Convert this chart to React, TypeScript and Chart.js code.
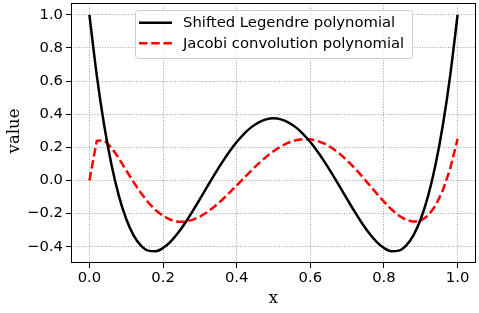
import React, { useEffect, useRef } from "react";
import { Chart, registerables } from "chart.js";

Chart.register(...registerables);

const xValues = [
  0, 0.02, 0.04, 0.06, 0.08, 0.1, 0.12, 0.14, 0.16, 0.18, 0.2, 0.22, 0.24, 0.26, 0.28, 0.3, 0.32, 0.34, 0.36, 0.38,
  0.4, 0.42, 0.44, 0.46, 0.48, 0.5, 0.52, 0.54, 0.56, 0.58, 0.6, 0.62, 0.64, 0.66, 0.68, 0.7, 0.72, 0.74, 0.76, 0.78,
  0.8, 0.82, 0.84, 0.86, 0.88, 0.9, 0.92, 0.94, 0.96, 0.98, 1.0,
];

const legendreValues = [
  1, 0.6349, 0.3352, 0.0947, -0.0928, -0.233, -0.3314, -0.3933, -0.4236, -0.427, -0.408, -0.3708, -0.3191, -0.2568,
  -0.187, -0.113, -0.0375, 0.0369, 0.1079, 0.1735, 0.232, 0.2819, 0.3219, 0.3512, 0.369, 0.375, 0.369, 0.3512, 0.3219,
  0.2819, 0.232, 0.1735, 0.1079, 0.0369, -0.0375, -0.113, -0.187, -0.2568, -0.3191, -0.3708, -0.408, -0.427, -0.4236,
  -0.3933, -0.3314, -0.233, -0.0928, 0.0947, 0.3352, 0.6349, 1,
];

const jacobiValues = [
  0, 0.2393, 0.2428, 0.1981, 0.133, 0.0608, -0.0105, -0.0762, -0.1332, -0.1797, -0.2146, -0.2374, -0.2486, -0.2487,
  -0.2383, -0.2188, -0.1914, -0.1572, -0.118, -0.0752, -0.0302, 0.0156, 0.0604, 0.1031, 0.1423, 0.1768, 0.2055, 0.2277,
  0.2426, 0.2495, 0.2482, 0.2384, 0.2204, 0.1943, 0.1608, 0.1208, 0.0753, 0.0257, -0.0261, -0.0783, -0.1284, -0.1739,
  -0.2116, -0.2381, -0.2498, -0.2425, -0.2118, -0.1525, -0.0597, 0.0724, 0.25,
];

const xTicks = [0, 0.2, 0.4, 0.6, 0.8, 1.0];
const yTicks = [-0.4, -0.2, 0, 0.2, 0.4, 0.6, 0.8, 1.0];
const seriesLabels = ["Shifted Legendre polynomial", "Jacobi convolution polynomial"];
const xTitle = "x";
const yTitle = "value";

const fmt = (v: number) => {
  const s = Math.abs(v).toFixed(1);
  return v < -1e-9 ? "\u2212" + s : s;
};

const TICK_FONT = { family: "'DejaVu Sans'", size: 14.8 };

const framePlugin = {
  id: "frame",
  afterDraw(chart: any) {
    const { ctx, chartArea: a } = chart;
    ctx.save();
    // axes box
    ctx.setLineDash([]);
    ctx.strokeStyle = "#000";
    ctx.lineWidth = 1;
    ctx.strokeRect(a.left + 0.5, a.top + 0.5, a.right - a.left - 1, a.bottom - a.top - 1);

    // legend
    const lx = a.left + 64;
    const ly = a.top + 7;
    const lw = 277;
    const lh = 48;
    ctx.beginPath();
    (ctx as any).roundRect(lx + 0.5, ly + 0.5, lw, lh, 3);
    ctx.fillStyle = "rgba(255,255,255,0.8)";
    ctx.fill();
    ctx.strokeStyle = "#cccccc";
    ctx.lineWidth = 1;
    ctx.stroke();
    chart.data.datasets.forEach((ds: any, i: number) => {
      const y = ly + 12.7 + i * 20.6;
      ctx.beginPath();
      ctx.setLineDash(ds.borderDash || []);
      ctx.strokeStyle = ds.borderColor;
      ctx.lineWidth = ds.borderWidth;
      ctx.moveTo(lx + 4, y);
      ctx.lineTo(lx + 37, y);
      ctx.stroke();
      ctx.setLineDash([]);
      ctx.fillStyle = "#000";
      ctx.font = "14.8px 'DejaVu Sans'";
      ctx.textBaseline = "middle";
      ctx.textAlign = "left";
      ctx.fillText(ds.label, lx + 48, y + 0.5);
    });

    // axis titles
    ctx.fillStyle = "#000";
    ctx.font = "16.5px 'DejaVu Serif'";
    ctx.textAlign = "center";
    ctx.textBaseline = "middle";
    ctx.fillText(xTitle, (a.left + a.right) / 2, a.bottom + 36);
    ctx.translate(15, (a.top + a.bottom) / 2 - 2);
    ctx.rotate(-Math.PI / 2);
    ctx.fillText(yTitle, 0, 0);
    ctx.restore();
  },
};

export default function App() {
  const canvasRef = useRef<HTMLCanvasElement | null>(null);

  useEffect(() => {
    const canvas = canvasRef.current;
    if (!canvas) return;
    const gridOpts = {
      color: "rgba(110,110,110,0.8)",
      lineWidth: 0.8,
      tickColor: "#000",
      tickLength: 5,
      tickWidth: 1,
      tickBorderDash: [],
    };
    const chart = new Chart(canvas, {
      type: "line",
      data: {
        datasets: [
          {
            label: seriesLabels[0],
            data: xValues.map((x, i) => ({ x, y: legendreValues[i] })),
            borderColor: "#000000",
            borderWidth: 2.5,
            pointRadius: 0,
            cubicInterpolationMode: "monotone",
            fill: false,
          },
          {
            label: seriesLabels[1],
            data: xValues.map((x, i) => ({ x, y: jacobiValues[i] })),
            borderColor: "#ff0000",
            borderWidth: 2.5,
            borderDash: [8.5, 3.7],
            pointRadius: 0,
            tension: 0,
            fill: false,
          },
        ],
      },
      options: {
        animation: false,
        responsive: false,
        maintainAspectRatio: false,
        devicePixelRatio: 1,
        layout: { padding: { top: 3, right: 3, left: 0, bottom: 0 } },
        plugins: { legend: { display: false }, tooltip: { enabled: false } },
        scales: {
          x: {
            type: "linear",
            min: -0.05,
            max: 1.05,
            afterBuildTicks: (axis: any) => {
              axis.ticks = xTicks.map((v) => ({ value: v }));
            },
            afterFit: (axis: any) => {
              axis.height = 50;
              axis.paddingLeft = 0;
              axis.paddingRight = 0;
              axis.paddingTop = 0;
              axis.paddingBottom = 0;
            },
            ticks: {
              color: "#000",
              font: TICK_FONT,
              padding: 1,
              maxRotation: 0,
              autoSkip: false,
              callback: (v: any) => fmt(Number(v)),
            },
            grid: gridOpts,
            border: { display: false, dash: [1, 1.6] },
          },
          y: {
            type: "linear",
            min: -0.4984,
            max: 1.0714,
            afterBuildTicks: (axis: any) => {
              axis.ticks = yTicks.map((v) => ({ value: v }));
            },
            afterFit: (axis: any) => {
              axis.width = 71;
              axis.paddingLeft = 0;
              axis.paddingRight = 0;
              axis.paddingTop = 0;
              axis.paddingBottom = 0;
            },
            ticks: {
              color: "#000",
              font: TICK_FONT,
              padding: 3,
              autoSkip: false,
              callback: (v: any) => fmt(Number(v)),
            },
            grid: gridOpts,
            border: { display: false, dash: [1, 1.6] },
          },
        },
      },
      plugins: [framePlugin],
    } as any);
    return () => chart.destroy();
  }, []);

  return (
    <div style={{ position: "absolute", left: 0, top: 0, width: 479, height: 313, background: "#fff" }}>
      <canvas ref={canvasRef} width={479} height={313} style={{ display: "block" }} />
    </div>
  );
}
